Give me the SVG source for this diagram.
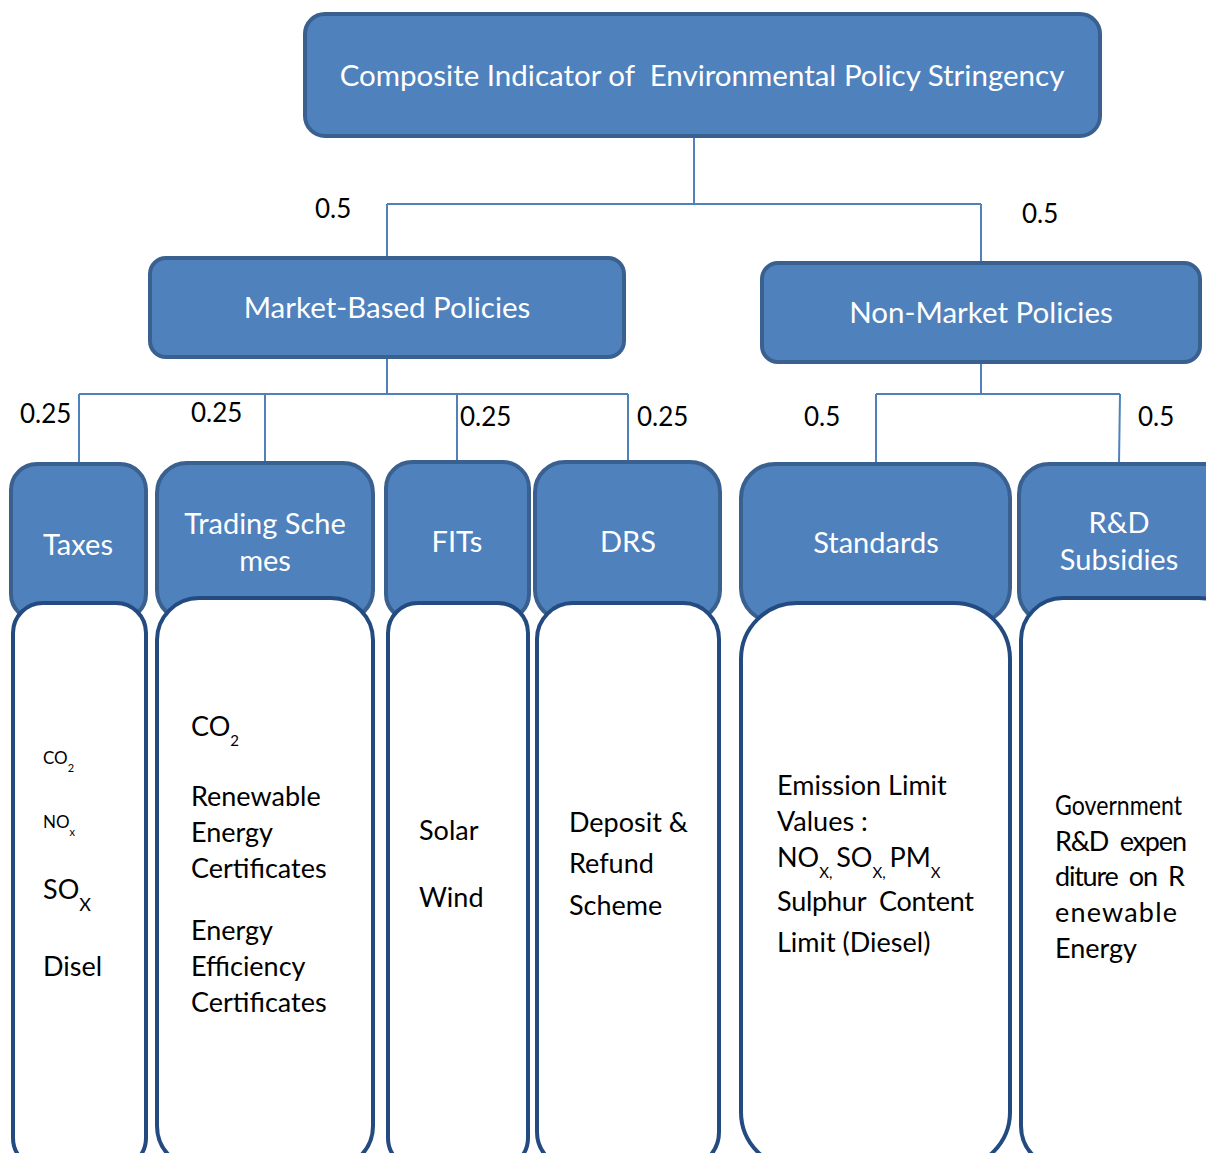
<svg xmlns="http://www.w3.org/2000/svg" width="1206" height="1153" viewBox="0 0 1206 1153" xml:space="preserve">
<style>
text{white-space:pre}
.hdr{fill:#4F81BD;stroke:#3A6090;stroke-width:4}
.body{fill:#fff;stroke:#234B80;stroke-width:4}
.wt{fill:#fff;font-family:Lato,"Open Sans",sans-serif;font-size:29px;text-anchor:middle}
.bt{fill:#000;font-family:Lato,"Open Sans",sans-serif;font-size:27px}
.wl{fill:#000;font-family:Lato,"Open Sans",sans-serif;font-size:26px}
.con{fill:none;stroke:#4F81BD;stroke-width:2}
</style>
<rect width="1206" height="1153" fill="#fff"/>
<g id="connectors">
<path class="con" d="M694 136V204M387 204H981M387 204V258M981 204V263"/>
<path class="con" d="M387 357V394M79 394H628M79 394V464M265 394V464M457 394V462M628 394V462"/>
<path class="con" d="M981 362V394M876 394H1120M876 394V464M1120 394L1119 464"/>
<text class="wl" x="315" y="218">0.5</text>
<text class="wl" x="1022" y="223">0.5</text>
<text class="wl" x="20" y="423">0.25</text>
<text class="wl" x="191" y="422">0.25</text>
<text class="wl" x="460" y="426">0.25</text>
<text class="wl" x="637" y="426">0.25</text>
<text class="wl" x="804" y="426">0.5</text>
<text class="wl" x="1138" y="426">0.5</text>
</g>
<g id="root">
<rect class="hdr" x="305" y="14" width="795" height="122" rx="20"/>
<text class="wt" x="702" y="86" style="font-size:29.5px">Composite Indicator of  Environmental Policy Stringency</text>
</g>
<g id="market">
<rect class="hdr" x="150" y="258" width="474" height="99" rx="16"/>
<text class="wt" x="387" y="318" style="font-size:29.5px">Market-Based Policies</text>
</g>
<g id="nonmarket">
<rect class="hdr" x="762" y="263" width="438" height="99" rx="16"/>
<text class="wt" x="981" y="323" style="font-size:29.5px">Non-Market Policies</text>
</g>
<g id="taxes">
<rect class="hdr" x="11" y="464" width="135" height="156" rx="26"/>
<rect class="body" x="13" y="603" width="133" height="565" rx="30"/>
<text class="wt" x="78" y="555">Taxes</text>
<text class="bt" x="43" y="764" style="font-size:17px">CO<tspan dy="8" style="font-size:11px">2</tspan></text>
<text class="bt" x="43" y="828" style="font-size:17px">NO<tspan dy="8" style="font-size:11px">x</tspan></text>
<text class="bt" x="43" y="899">SO<tspan dy="12" style="font-size:18px">X</tspan></text>
<text class="bt" x="43" y="976">Disel</text>
</g>
<g id="trading">
<rect class="hdr" x="157" y="463" width="216" height="157" rx="30"/>
<rect class="body" x="157" y="598" width="216" height="570" rx="42"/>
<text class="wt" x="265" y="534">Trading Sche</text>
<text class="wt" x="265" y="571">mes</text>
<text class="bt" x="191" y="736">CO<tspan dy="10" style="font-size:15px">2</tspan></text>
<text class="bt" x="191" y="806">Renewable</text>
<text class="bt" x="191" y="842">Energy</text>
<text class="bt" x="191" y="878">Certificates</text>
<text class="bt" x="191" y="940">Energy</text>
<text class="bt" x="191" y="976">Efficiency</text>
<text class="bt" x="191" y="1012">Certificates</text>
</g>
<g id="fits">
<rect class="hdr" x="386" y="462" width="143" height="158" rx="26"/>
<rect class="body" x="388" y="603" width="140" height="565" rx="30"/>
<text class="wt" x="457" y="552">FITs</text>
<text class="bt" x="419" y="840">Solar</text>
<text class="bt" x="419" y="907">Wind</text>
</g>
<g id="drs">
<rect class="hdr" x="535" y="462" width="185" height="158" rx="30"/>
<rect class="body" x="537" y="603" width="182" height="565" rx="36"/>
<text class="wt" x="628" y="552">DRS</text>
<text class="bt" x="569" y="832">Deposit &amp;</text>
<text class="bt" x="569" y="873">Refund</text>
<text class="bt" x="569" y="915">Scheme</text>
</g>
<g id="standards">
<rect class="hdr" x="741" y="464" width="269" height="158" rx="34"/>
<rect class="body" x="741" y="603" width="269" height="565" rx="56"/>
<text class="wt" x="876" y="553">Standards</text>
<text class="bt" x="777" y="795">Emission Limit</text>
<text class="bt" x="777" y="831">Values :</text>
<text class="bt" x="777" y="867">NO<tspan dy="11" style="font-size:15px">X,</tspan><tspan dy="-11" style="font-size:15px"> </tspan><tspan>SO</tspan><tspan dy="11" style="font-size:15px">X,</tspan><tspan dy="-11" style="font-size:15px"> </tspan><tspan>PM</tspan><tspan dy="11" style="font-size:15px">X</tspan></text>
<text class="bt" x="777" y="911" textLength="197" lengthAdjust="spacing">Sulphur  Content</text>
<text class="bt" x="777" y="952">Limit (Diesel)</text>
</g>
<g id="rnd">
<rect class="hdr" x="1019" y="464" width="220" height="158" rx="30"/>
<rect class="body" x="1021" y="598" width="220" height="570" rx="42"/>
<text class="wt" x="1119" y="533">R&amp;D</text>
<text class="wt" x="1119" y="570">Subsidies</text>
<text class="bt" x="1055" y="815" textLength="127" lengthAdjust="spacingAndGlyphs">Government</text>
<text class="bt" x="1055" y="851" textLength="132" lengthAdjust="spacing">R&amp;D  expen</text>
<text class="bt" x="1055" y="886" textLength="130" lengthAdjust="spacing">diture  on  R</text>
<text class="bt" x="1055" y="922" textLength="122" lengthAdjust="spacing">enewable</text>
<text class="bt" x="1055" y="958">Energy</text>
</g>
</svg>
